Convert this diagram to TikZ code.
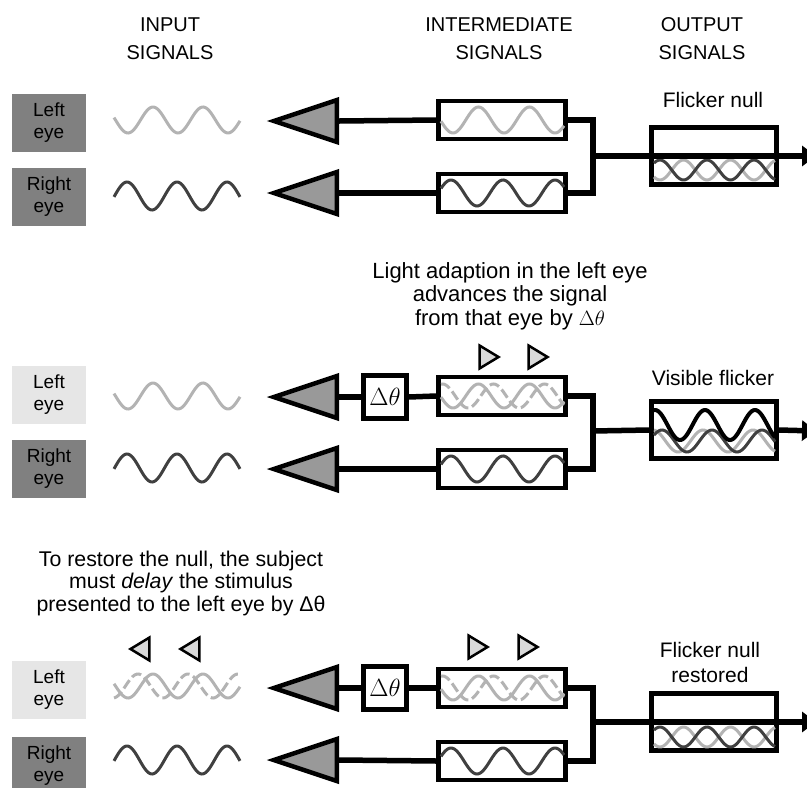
\documentclass[tikz,border=0pt]{standalone}
\usepackage{fontspec}
\setmainfont{Liberation Sans}
\usetikzlibrary{shapes.geometric, arrows.meta}

\definecolor{eyedark}{HTML}{808080}
\definecolor{eyelight}{HTML}{E6E6E6}
\definecolor{siglight}{HTML}{B3B3B3}
\definecolor{sigdark}{HTML}{404040}
\definecolor{ampfill}{HTML}{999999}
\definecolor{shiftfill}{HTML}{D9D9D9}

% one sine trace: style, from, to, centre line, amplitude, phase point, period
\newcommand{\sigwave}[7]{%
  \draw[#1] plot[domain=#2:#3, samples=90, smooth, variable=\t]
    (\t, {#4+#5*cos((\t-#6)/#7*360)});}

\begin{document}
\begin{tikzpicture}[x=1pt, y=-1pt,
    every node/.style={font=\fontsize{21}{24}\selectfont},
    head/.style={align=center, font=\fontsize{20}{28}\selectfont},
    eyebox/.style={minimum width=74, minimum height=58, inner sep=0, align=center,
      font=\fontsize{19}{22}\selectfont},
    amp/.style={isosceles triangle, isosceles triangle stretches, shape border rotate=180,
      draw, line width=4.5, fill=ampfill, inner sep=0, minimum width=42, minimum height=63, anchor=apex},
    shiftR/.style={isosceles triangle, isosceles triangle stretches, shape border rotate=0,
      draw, line width=2.5, fill=shiftfill, inner sep=0, minimum width=23, minimum height=19},
    shiftL/.style={shiftR, shape border rotate=180},
    chanbox/.style={draw, line width=4.5, fill=white, minimum width=127, minimum height=38, inner sep=0},
    outbox/.style={draw, line width=4.5, fill=white, minimum width=125, minimum height=57, inner sep=0},
    dbox/.style={draw, line width=4.5, fill=white, minimum size=43, inner sep=0,
      font=\fontsize{25}{26}\selectfont},
    wire/.style={line width=5.5, line join=miter},
    outarrow/.style={-{Triangle[length=14pt, width=20pt]}},
    lightsig/.style={siglight, line width=3},
    darksig/.style={sigdark, line width=3},
    dashsig/.style={siglight, line width=3, dash pattern=on 10pt off 4pt},
    sumsig/.style={black, line width=4}]

    \useasboundingbox (0,0) rectangle (807,788);
    \clip (0,0) rectangle (807,788);

    % Column headers
    \node[head] (hin) at (170,39) {INPUT\\SIGNALS};
    \node[head] (hmid) at (499,39) {INTERMEDIATE\\SIGNALS};
    \node[head] (hout) at (702,39) {OUTPUT\\SIGNALS};

    % ---- Panel 1: flicker null
    \node[eyebox, fill=eyedark] (eyeL1) at (49,123) {Left\\eye};
    \node[eyebox, fill=eyedark] (eyeR1) at (49,197) {Right\\eye};
    \sigwave{lightsig}{114}{240}{120}{13}{128}{50}
    \sigwave{darksig}{114}{240}{196}{-14}{127}{50}

    \node[amp] (ampL1) at (268,121) {};
    \node[amp] (ampR1) at (268,193) {};
    \node[chanbox] (chL1) at (502,120) {};
    \node[chanbox] (chR1) at (502,193) {};
    \sigwave{lightsig}{441}{564}{120}{13}{453}{51}
    \sigwave{darksig}{441}{564}{193}{-13}{451}{52}
    \draw[wire] (chL1.west) -- (ampL1.east);
    \draw[wire] (chR1.west) -- (ampR1.east);

    \coordinate (j1) at (593,156);
    \coordinate (end1) at (816,156);
    \draw[wire] (chL1.east) -| (j1) |- (chR1.east);
    \node (lab1) at (713,100) {Flicker null};
    \node[outbox] (null1) at (714,156) {};
    \sigwave{lightsig}{654}{775}{170}{10}{660}{47}
    \sigwave{darksig}{654}{775}{170}{-10}{660}{47}
    \draw[wire, outarrow] (j1) -- (null1.west) -- (null1.east) -- (end1);

    % ---- Panel 2: light adaption, visible flicker
    \node[align=center, font=\fontsize{22}{23.5}\selectfont] (note2) at (510,296)
      {Light adaption in the left eye\\advances the signal\\from that eye by $\Delta\theta$};
    \node[shiftR] (adv1) at (486,357) {};
    \node[shiftR] (adv2) at (535,357) {};

    \node[eyebox, fill=eyelight] (eyeL2) at (49,395) {Left\\eye};
    \node[eyebox, fill=eyedark] (eyeR2) at (49,469) {Right\\eye};
    \sigwave{lightsig}{114}{240}{396}{13}{128}{50}
    \sigwave{darksig}{114}{240}{468}{-14}{127}{50}

    \node[amp] (ampL2) at (268,397) {};
    \node[amp] (ampR2) at (268,469) {};
    \node[dbox] (dth2) at (385,397) {$\Delta\theta$};
    \node[chanbox] (chL2) at (502,396) {};
    \node[chanbox] (chR2) at (502,469) {};
    \sigwave{lightsig}{441}{564}{396}{12}{453}{51}
    \sigwave{dashsig}{441}{564}{396}{12}{468}{51}
    \sigwave{darksig}{441}{564}{469}{-13}{451}{52}
    \draw[wire] (chL2.west) -- (dth2.east);
    \draw[wire] (dth2.west) -- (ampL2.east);
    \draw[wire] (chR2.west) -- (ampR2.east);

    \coordinate (j2) at (593,431);
    \coordinate (end2) at (816,431);
    \draw[wire] (chL2.east) -| (j2) |- (chR2.east);
    \node (lab2) at (713,378) {Visible flicker};
    \node[outbox] (vis2) at (714,430) {};
    \sigwave{lightsig}{654}{775}{441}{-11}{653}{50}
    \sigwave{darksig}{654}{775}{441}{-11}{662}{50}
    \sigwave{sumsig}{654}{775}{425}{-15}{655}{50}
    \draw[wire] (j2) -- (vis2.west);
    \draw[wire, outarrow] (vis2.east) -- (end2);

    % ---- Panel 3: delayed stimulus restores the null
    \node[align=center, font=\fontsize{21.3}{22.5}\selectfont] (note3) at (181,583)
      {To restore the null, the subject\\must \emph{delay} the stimulus\\presented to the left eye by Δθ};
    \node[shiftL] (del1) at (143,649) {};
    \node[shiftL] (del2) at (193,649) {};

    \node[eyebox, fill=eyelight] (eyeL3) at (49,690) {Left\\eye};
    \node[eyebox, fill=eyedark] (eyeR3) at (49,766) {Right\\eye};
    \sigwave{lightsig}{114}{240}{686}{12}{128}{50}
    \sigwave{dashsig}{114}{240}{686}{12}{113}{50}
    \sigwave{darksig}{114}{240}{760}{-14}{127}{50}

    \node[amp] (ampL3) at (268,688) {};
    \node[amp] (ampR3) at (268,760) {};
    \node[dbox] (dth3) at (385,688) {$\Delta\theta$};
    \node[shiftR] (adv3) at (475,647) {};
    \node[shiftR] (adv4) at (525,647) {};
    \node[chanbox] (chL3) at (502,688) {};
    \node[chanbox] (chR3) at (502,761) {};
    \sigwave{lightsig}{441}{564}{688}{12}{453}{51}
    \sigwave{dashsig}{441}{564}{688}{12}{468}{51}
    \sigwave{darksig}{441}{564}{761}{-13}{451}{52}
    \draw[wire] (chL3.west) -- (dth3.east);
    \draw[wire] (dth3.west) -- (ampL3.east);
    \draw[wire] (chR3.west) -- (ampR3.east);

    \coordinate (j3) at (593,722);
    \coordinate (end3) at (816,722);
    \draw[wire] (chL3.east) -| (j3) |- (chR3.east);
    \node[align=center, font=\fontsize{21}{25}\selectfont] (lab3) at (710,662) {Flicker null\\restored};
    \node[outbox] (null3) at (714,722) {};
    \sigwave{lightsig}{654}{775}{737}{10}{660}{47}
    \sigwave{darksig}{654}{775}{737}{-10}{660}{47}
    \draw[wire, outarrow] (j3) -- (null3.west) -- (null3.east) -- (end3);

\end{tikzpicture}
\end{document}
